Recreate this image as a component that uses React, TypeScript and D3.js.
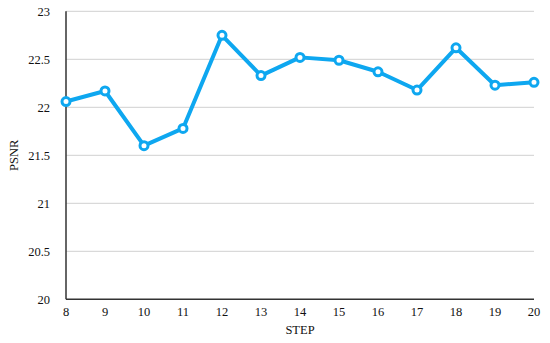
import React from 'react';
import * as d3 from 'd3';

const steps = [8, 9, 10, 11, 12, 13, 14, 15, 16, 17, 18, 19, 20];
const psnr = [22.06, 22.17, 21.6, 21.78, 22.75, 22.33, 22.52, 22.49, 22.37, 22.18, 22.62, 22.23, 22.26];
const yTicks = [20, 20.5, 21, 21.5, 22, 22.5, 23];

export default function App() {
    const width = 550;
    const height = 343;
    const left = 66;
    const right = 534;
    const top = 11.3;
    const bottom = 299.3;

    const x = d3.scaleLinear().domain([8, 20]).range([left, right]);
    const y = d3.scaleLinear().domain([20, 23]).range([bottom, top]);

    const line = d3.line<number>()
        .x((d, i) => x(steps[i]))
        .y(d => y(d));

    const blue = '#0ea7f0';
    const font = '"Liberation Serif", "Times New Roman", serif';

    return (
        <svg width={width} height={height} style={{ position: 'absolute', left: 0, top: 0, background: '#fff' }}>
            {/* grid */}
            {yTicks.slice(1).map(t => (
                <line key={t} x1={left} x2={right} y1={y(t)} y2={y(t)} stroke="#d9d9d9" strokeWidth={1.2} />
            ))}
            {/* axes */}
            <line x1={left} x2={left} y1={top} y2={bottom} stroke="#333" strokeWidth={1.5} />
            <line x1={left} x2={right} y1={bottom} y2={bottom} stroke="#333" strokeWidth={1.5} />

            {yTicks.map(t => (
                <text key={t} x={50} y={y(t)} dy="0.35em" textAnchor="end" fontFamily={font} fontSize={12.5} fill="#111">
                    {t}
                </text>
            ))}
            {steps.map(s => (
                <text key={s} x={x(s)} y={316} textAnchor="middle" fontFamily={font} fontSize={12.5} fill="#111">
                    {s}
                </text>
            ))}
            <text x={300} y={334} textAnchor="middle" fontFamily={font} fontSize={12.5} fill="#111">STEP</text>
            <text transform={`translate(18, ${(top + bottom) / 2}) rotate(-90)`} textAnchor="middle" fontFamily={font} fontSize={12.5} fill="#111">
                PSNR
            </text>

            <path d={line(psnr) || ''} fill="none" stroke={blue} strokeWidth={4} strokeLinejoin="round" />
            {psnr.map((v, i) => (
                <circle key={i} cx={x(steps[i])} cy={y(v)} r={4} fill="#fff" stroke={blue} strokeWidth={3} />
            ))}
        </svg>
    );
}
